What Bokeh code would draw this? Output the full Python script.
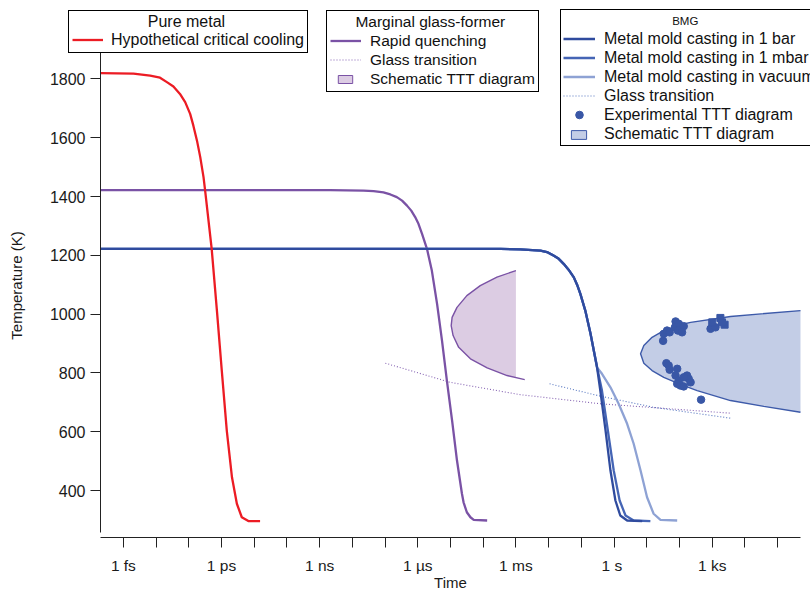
import json
from bokeh.plotting import figure
from bokeh.models import Legend, LegendItem, FixedTicker, CustomJSTickFormatter, Range1d
from bokeh.embed import file_html
from bokeh.resources import INLINE

FONT = "Liberation Sans"
NAN = float("nan")

# ---------------- axes ----------------
x_ticks = [1e-15, 1e-14, 1e-13, 1e-12, 1e-11, 1e-10, 1e-9, 1e-8, 1e-7, 1e-6, 1e-5,
           1e-4, 1e-3, 1e-2, 1e-1, 1, 1e1, 1e2, 1e3, 1e4, 1e5]
x_tick_labels = {"-15": "1 fs", "-12": "1 ps", "-9": "1 ns", "-6": "1 \u00b5s",
                 "-3": "1 ms", "0": "1  s", "3": "1 ks"}
x_axis_bounds = (2e-16, 5e5)
y_ticks = [400, 600, 800, 1000, 1200, 1400, 1600, 1800]
y_axis_bounds = (258, 1936)

# ---------------- pure metal ----------------
red_t = [2e-16, 2.04e-15, 6.6e-15, 1.32e-14, 2.14e-14, 3.39e-14, 5.37e-14, 7.76e-14,
         1.10e-13, 1.38e-13, 1.78e-13, 2.24e-13, 2.82e-13, 3.16e-13, 5.01e-13, 7.24e-13,
         1.02e-12, 1.45e-12, 2.09e-12, 2.95e-12, 4.17e-12, 6.61e-12, 1.51e-11]
red_T = [1820, 1818, 1811, 1804, 1789, 1774, 1749, 1721, 1681, 1641, 1590, 1534, 1466,
         1420, 1222, 1012, 808, 604, 445, 355, 309, 296, 296]

# ---------------- marginal glass former ----------------
purple_t = [2e-16, 2.09e-9, 2.19e-8, 4.47e-8, 8.91e-8, 1.45e-7, 2.29e-7, 3.31e-7, 4.68e-7,
            6.31e-7, 8.32e-7, 1.05e-6, 1.35e-6, 1.91e-6, 2.69e-6, 3.89e-6, 5.50e-6,
            7.76e-6, 1.12e-5, 1.58e-5, 2.24e-5, 2.51e-5, 3.16e-5, 4.07e-5, 5.13e-5, 1.32e-4]
purple_T = [1422, 1422, 1420, 1418, 1414, 1407, 1398, 1386, 1369, 1352, 1330, 1307, 1273,
            1222, 1148, 1035, 910, 774, 638, 502, 389, 360, 326, 309, 300, 298]

purple_gt_t = [1.02e-7, 9.77e-6, 1.35e-3, 0.380, 3630]
purple_gt_T = [833, 768, 726, 695, 663]

purple_ttt_t = [1e-3, 2.63e-4, 8.13e-5, 3.16e-5, 1.58e-5, 1.12e-5, 1.05e-5, 1.20e-5,
                1.78e-5, 4.07e-5, 1.32e-4, 5.37e-4, 1.86e-3]
purple_ttt_T = [1148, 1126, 1097, 1063, 1023, 989, 961, 927, 887, 848, 817, 791, 777]
purple_fill_t = [1e-3, 2.63e-4, 8.13e-5, 3.16e-5, 1.58e-5, 1.12e-5, 1.05e-5, 1.20e-5,
                 1.78e-5, 4.07e-5, 1.32e-4, 5.37e-4, 1e-3]
purple_fill_T = [1148, 1126, 1097, 1063, 1023, 989, 961, 927, 887, 848, 817, 791, 784]

# ---------------- BMG ----------------
bar_t = [2e-16, 3.39e-4, 1.35e-3, 5.62e-3, 8.91e-3, 1.41e-2, 2.04e-2, 2.88e-2, 4.07e-2,
         5.89e-2, 7.41e-2, 9.33e-2, 0.132, 0.191, 0.251, 0.302, 0.380, 0.550, 0.776, 1.10,
         1.55, 2.51, 7.24]
bar_T = [1222, 1222, 1220, 1216, 1211, 1199, 1188, 1171, 1151, 1125, 1100, 1069, 1012,
         933, 865, 819, 740, 604, 468, 366, 315, 298, 296]
mbar_t = [2e-16, 3.39e-4, 1.35e-3, 5.62e-3, 8.91e-3, 1.41e-2, 2.04e-2, 2.88e-2, 4.07e-2,
          5.89e-2, 7.41e-2, 9.33e-2, 0.132, 0.191, 0.251, 0.302, 0.427, 0.646, 0.977, 1.48,
          2.24, 3.98, 12.9]
mbar_T = [1222, 1222, 1220, 1216, 1211, 1199, 1188, 1171, 1151, 1125, 1100, 1069, 1012,
          933, 865, 819, 740, 604, 468, 366, 315, 298, 296]
vac_t = [2e-16, 3.39e-4, 1.35e-3, 5.62e-3, 8.91e-3, 1.41e-2, 2.04e-2, 2.88e-2, 4.07e-2,
         5.89e-2, 7.41e-2, 9.33e-2, 0.132, 0.191, 0.251, 0.302, 0.427, 0.776, 1.38, 2.51,
         3.98, 6.46, 10.2, 16.2, 26.3, 85.1]
vac_T = [1222, 1222, 1220, 1216, 1211, 1199, 1188, 1171, 1151, 1125, 1100, 1069, 1012,
         933, 865, 819, 797, 751, 695, 627, 559, 468, 377, 321, 300, 298]

blue_gt_t = [1.07e-2, 0.380, 16.2, 3630]
blue_gt_T = [763, 721, 683, 646]

ttt_upper_t = [6.46, 8.13, 14.5, 33.1, 107, 219, 3630, 5e5]
ttt_upper_T = [865, 893, 921, 944, 964, 972, 992, 1012]
ttt_lower_t = [6.46, 8.13, 14.5, 33.1, 107, 347, 3630, 3.8e4, 5e5]
ttt_lower_T = [865, 833, 808, 785, 761, 740, 706, 686, 666]

exp_t = [31.6, 33.1, 41.7, 50.1, 75.9, 72.4, 95.5, 135, 89.1, 120, 891, 1260,
         39.8, 46.8, 50.1, 85.1, 75.9, 95.5, 85.1, 107, 135, 170, 191, 219, 135, 457]
exp_T = [909, 933, 944, 938, 975, 955, 967, 959, 944, 938, 950, 955,
         833, 825, 811, 814, 791, 774, 763, 757, 754, 791, 780, 768, 785, 709]
exp_sq_t = [1000, 1780, 2400, 2000]
exp_sq_T = [972, 987, 964, 972]

legend_titles = ["Pure metal", "Marginal glass-former", "BMG"]

# ---------------- colours ----------------
RED = "#ec1c24"
PURPLE = "#7a52a5"
PURPLE_DOT = "#8562b2"
PURPLE_FILL = "#dccce3"
BAR = "#2f4b9e"
MBAR = "#4565b5"
VAC = "#8ea2d4"
BLUE_DOT = "#5575c0"
BLUE_FILL = "#c3cde6"
BLUE_LINE = "#3d5aa9"
EXP = "#3957a6"

W, H = 810, 589
p = figure(width=W, height=H, x_axis_type="log",
           x_range=Range1d(1.754e-19, 1.012e6), y_range=Range1d(63.3, 2066.7),
           output_backend="svg", toolbar_location=None,
           min_border_left=0, min_border_right=0, min_border_top=0, min_border_bottom=0,
           x_axis_label="Time", y_axis_label="Temperature (K)")
p.outline_line_color = None
p.xgrid.visible = False
p.ygrid.visible = False
p.background_fill_color = "white"
p.border_fill_color = "white"

xa = p.xaxis[0]
xa.fixed_location = 239
xa.bounds = x_axis_bounds
xa.ticker = FixedTicker(ticks=x_ticks)
xa.formatter = CustomJSTickFormatter(code="""
const labels = %s;
const e = String(Math.round(Math.log10(tick)));
return (e in labels) ? labels[e] : "";
""" % json.dumps(x_tick_labels))
xa.minor_tick_line_color = None
xa.major_tick_in = 0
xa.major_tick_out = 10
xa.major_label_standoff = 9
xa.major_label_text_font = FONT
xa.major_label_text_font_size = "15.5px"
xa.major_label_text_color = "#1a1a1a"
xa.axis_label_standoff = -3
xa.axis_label_text_font = FONT
xa.axis_label_text_font_size = "15px"
xa.axis_label_text_font_style = "normal"
xa.axis_label_text_color = "#1a1a1a"
xa.axis_line_color = "#222222"
xa.major_tick_line_color = "#222222"

ya = p.yaxis[0]
ya.fixed_location = 2e-16
ya.bounds = y_axis_bounds
ya.ticker = FixedTicker(ticks=y_ticks)
ya.minor_tick_line_color = None
ya.major_tick_in = 0
ya.major_tick_out = 10
ya.major_label_standoff = 5
ya.major_label_text_font = FONT
ya.major_label_text_font_size = "16px"
ya.major_label_text_color = "#1a1a1a"
ya.axis_label_standoff = 22
ya.axis_label_text_font = FONT
ya.axis_label_text_font_size = "15px"
ya.axis_label_text_font_style = "normal"
ya.axis_label_text_color = "#1a1a1a"
ya.axis_line_color = "#222222"
ya.major_tick_line_color = "#222222"

# TTT regions
p.patch(purple_fill_t, purple_fill_T, fill_color=PURPLE_FILL, line_color=None)
p.line(purple_ttt_t, purple_ttt_T, line_color=PURPLE, line_width=1.4)
ttt_t = ttt_upper_t[::-1] + ttt_lower_t[1:]
ttt_T = ttt_upper_T[::-1] + ttt_lower_T[1:]
p.patch(ttt_t, ttt_T, fill_color=BLUE_FILL, line_color=None)
p.line(ttt_t, ttt_T, line_color=BLUE_LINE, line_width=1.4)

# glass transitions
r_pgt = p.line(purple_gt_t, purple_gt_T, line_color=PURPLE_DOT, line_width=1.1, line_dash="1 2")
r_bgt = p.line(blue_gt_t, blue_gt_T, line_color=BLUE_DOT, line_width=1.1, line_dash="1 2")

# cooling curves
r_purple = p.line(purple_t, purple_T, line_color=PURPLE, line_width=2.3)
r_vac = p.line(vac_t, vac_T, line_color=VAC, line_width=2.3)
r_mbar = p.line(mbar_t, mbar_T, line_color=MBAR, line_width=2.3)
r_bar = p.line(bar_t, bar_T, line_color=BAR, line_width=2.3)
r_red = p.line(red_t, red_T, line_color=RED, line_width=2.3)

# experimental TTT
r_exp = p.scatter(exp_t, exp_T, marker="circle", size=7.5, fill_color=EXP, line_color=EXP)
p.scatter(exp_sq_t, exp_sq_T, marker="square", size=7, fill_color=EXP, line_color=EXP)

# legend helper renderers (draw nothing in the plot)
dummy_p = p.patch([], [], fill_alpha=0, line_alpha=0)
dummy_b = p.patch([], [], fill_alpha=0, line_alpha=0)
rect_p = p.patch([NAN], [NAN], fill_color=PURPLE_FILL, line_color=PURPLE, line_width=1)
rect_b = p.patch([NAN], [NAN], fill_color=BLUE_FILL, line_color=BLUE_LINE, line_width=1)


def box_legend(items, left, bottom, pad, gw, gh, standoff, fs, tstand):
    # left / bottom given in canvas pixels from the top-left corner
    return Legend(items=items, location=(left, H - bottom), orientation="vertical",
                  glyph_width=gw, glyph_height=gh, label_height=gh, label_width=0,
                  padding=pad, spacing=0, margin=0, label_standoff=standoff,
                  label_text_font=FONT, label_text_font_size=fs, label_text_color="#111111",
                  border_line_color="black", border_line_width=1, border_line_alpha=1,
                  background_fill_color="white", background_fill_alpha=1,
                  title=" ", title_text_font=FONT, title_text_font_size="12px",
                  title_standoff=tstand)


def glyph_only_legend(renderer, left, bottom, gw, gh):
    return Legend(items=[LegendItem(label=" ", renderers=[renderer])],
                  location=(left, H - bottom),
                  glyph_width=gw, glyph_height=gh, label_height=1, label_width=0,
                  padding=0, spacing=0, margin=0, label_standoff=0,
                  label_text_font_size="1px", border_line_color=None,
                  background_fill_alpha=0)


def text_only_legend(text, left, bottom, fs):
    return Legend(items=[LegendItem(label=text, renderers=[dummy_p])],
                  location=(left, H - bottom),
                  glyph_width=0, glyph_height=20, label_height=20, label_width=0,
                  padding=0, spacing=0, margin=0, label_standoff=0,
                  label_text_font=FONT, label_text_font_size=fs,
                  label_text_color="#111111", border_line_color=None,
                  background_fill_alpha=0)


leg_pure = box_legend([LegendItem(label="Hypothetical critical cooling", renderers=[r_red])],
                      68, 53, 3, 31, 19, 8, "16px", 2)
leg_marg = box_legend([LegendItem(label="Rapid quenching", renderers=[r_purple]),
                       LegendItem(label="Glass transition", renderers=[r_pgt]),
                       LegendItem(label="Schematic TTT diagram", renderers=[dummy_p])],
                      326, 92, 3, 31, 19, 9, "15.5px", 3)
leg_bmg = box_legend([LegendItem(label="Metal mold casting in 1 bar", renderers=[r_bar]),
                      LegendItem(label="Metal mold casting in 1 mbar", renderers=[r_mbar]),
                      LegendItem(label="Metal mold casting in vacuum", renderers=[r_vac]),
                      LegendItem(label="Glass transition", renderers=[r_bgt]),
                      LegendItem(label="Experimental TTT diagram", renderers=[r_exp]),
                      LegendItem(label="Schematic TTT diagram", renderers=[dummy_b])],
                     560, 146, 2, 32, 19, 9, "16px", 3)
for lg in (leg_pure, leg_marg, leg_bmg):
    p.add_layout(lg, "center")

p.add_layout(glyph_only_legend(rect_p, 335.5, 84, 18, 10), "center")
p.add_layout(glyph_only_legend(rect_b, 568.5, 140, 19, 11), "center")

# centred box titles (left edge = centre - half text width)
for txt, left, bottom, fs in zip(legend_titles, [147.8, 355.4, 672.2], [31.7, 31.7, 30.7],
                                 ["16px", "15.5px", "11.5px"]):
    p.add_layout(text_only_legend(txt, left, bottom, fs), "center")

open("out.html", "w").write(file_html(p, INLINE))
